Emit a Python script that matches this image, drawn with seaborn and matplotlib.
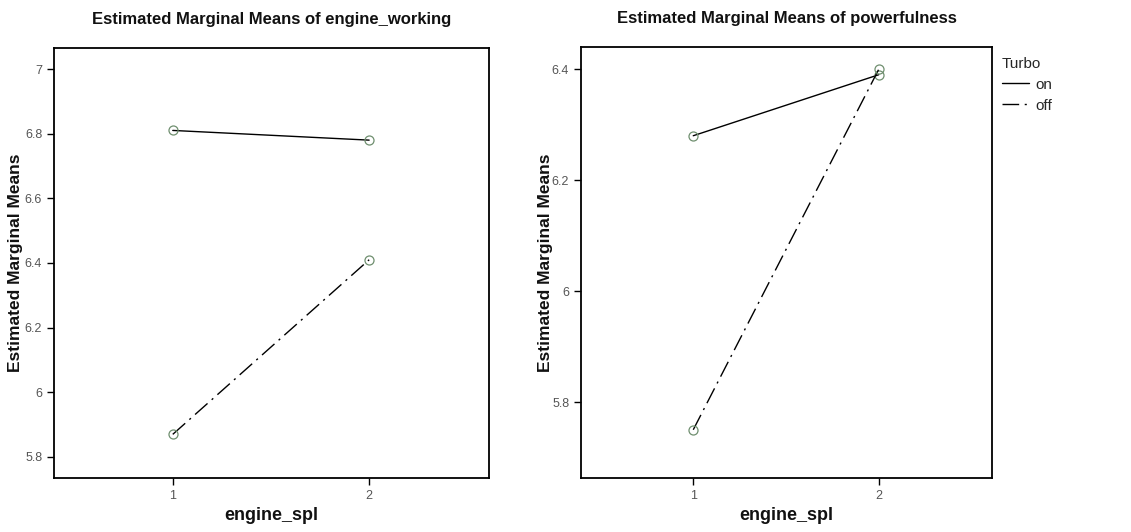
import matplotlib
matplotlib.use("Agg")
import matplotlib.pyplot as plt
import seaborn as sns
import pandas as pd

# Estimated marginal means by engine_spl level and Turbo setting
engine_spl = [1, 2]
turbo_levels = ["on", "off"]
working_on = [6.81, 6.78]
working_off = [5.87, 6.41]
power_on = [6.28, 6.39]
power_off = [5.75, 6.40]

y_ticks_working = [5.8, 6.0, 6.2, 6.4, 6.6, 6.8, 7.0]
y_tick_labels_working = ["5.8", "6", "6.2", "6.4", "6.6", "6.8", "7"]
y_ticks_power = [5.8, 6.0, 6.2, 6.4]
y_tick_labels_power = ["5.8", "6", "6.2", "6.4"]


def frame(on_vals, off_vals):
    rows = []
    for lvl, vals in zip(turbo_levels, [on_vals, off_vals]):
        for x, v in zip(engine_spl, vals):
            rows.append({"engine_spl": x, "mean": v, "Turbo": lvl})
    return pd.DataFrame(rows)


sns.set_theme(style="white")
plt.rcParams["font.family"] = ["Liberation Sans", "DejaVu Sans"]

fig = plt.figure(figsize=(11.31, 5.32), dpi=100)
ax1 = fig.add_axes([0.0477, 0.1015, 0.3846, 0.8083])
ax2 = fig.add_axes([0.5137, 0.1015, 0.3634, 0.8102])

dash_styles = {"on": "", "off": (12, 4, 1.5, 4)}
marker_styles = {"on": "o", "off": "o"}

panels = [
    (ax1, frame(working_on, working_off), "engine_working",
     (5.735, 7.065), y_ticks_working, y_tick_labels_working, -0.071),
    (ax2, frame(power_on, power_off), "powerfulness",
     (5.663, 6.44), y_ticks_power, y_tick_labels_power, -0.069),
]

for ax, df, name, ylim, yt, ytl, ylab_x in panels:
    sns.lineplot(data=df, x="engine_spl", y="mean", style="Turbo",
                 dashes=dash_styles, markers=marker_styles, color="black",
                 linewidth=1.0, markersize=6.5, markerfacecolor="none",
                 markeredgecolor="#6f8f6f", markeredgewidth=0.9,
                 legend=(ax is ax2), ax=ax)
    ax.set_xlim(0.395, 2.61)
    ax.set_ylim(*ylim)
    ax.set_xticks(engine_spl)
    ax.set_xticklabels([str(v) for v in engine_spl])
    ax.set_yticks(yt)
    ax.set_yticklabels(ytl)
    ax.tick_params(axis="both", which="both", length=5, width=1, color="black",
                   labelsize=9, labelcolor="#555555", direction="out",
                   left=True, bottom=True)
    for sp in ax.spines.values():
        sp.set_color("black")
        sp.set_linewidth(1.3)
    ax.set_title(f"Estimated Marginal Means of {name}", fontsize=12,
                 fontweight="bold", pad=17, color="#111111")
    ax.set_xlabel("engine_spl", fontsize=13, fontweight="bold", labelpad=4,
                  color="#111111")
    ax.set_ylabel("Estimated Marginal Means", fontsize=12.5, fontweight="bold",
                  color="#111111")
    ax.yaxis.set_label_coords(ylab_x, 0.5)

leg = ax2.legend(title="Turbo", loc="upper left", bbox_to_anchor=(1.0, 1.0),
                 frameon=False, fontsize=11, title_fontsize=11,
                 handlelength=1.8, handletextpad=0.4, borderaxespad=0.25,
                 labelspacing=0.45)
for h in leg.legend_handles:
    h.set_marker("")
leg._legend_box.align = "left"

fig.savefig("out.png", dpi=100, facecolor="white")
